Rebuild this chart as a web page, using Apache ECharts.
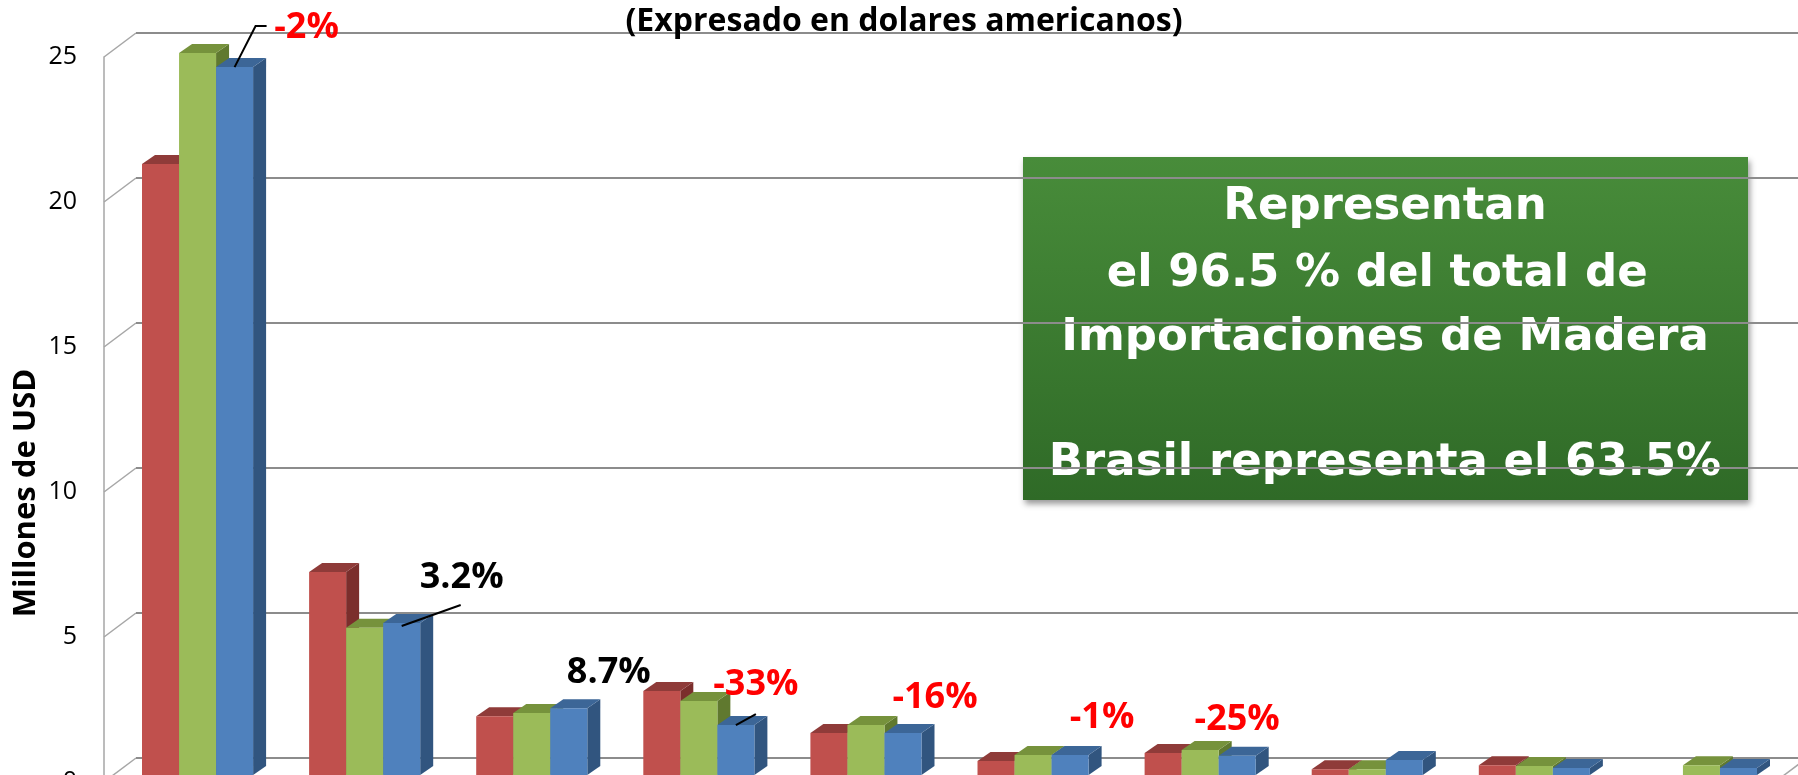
<!DOCTYPE html>
<html>
<head>
<meta charset="utf-8">
<title>Importaciones de Madera</title>
<script src="https://cdn.jsdelivr.net/npm/echarts@6.0.0/dist/echarts.min.js"></script>
<style>
  html, body { margin: 0; padding: 0; background: #fff; }
  #grafico { width: 1798px; height: 775px; }
</style>
</head>
<body>
<div id="grafico"></div>
<script>
// datos en millones de USD
var paises = ['Brasil', 'País 2', 'País 3', 'País 4', 'País 5', 'País 6', 'País 7', 'País 8', 'País 9', 'País 10'];
var anio1 = [21.07, 7.0, 2.03, 2.9, 1.45, 0.48, 0.76, 0.2, 0.34, 0];
var anio2 = [24.9, 5.08, 2.14, 2.55, 1.72, 0.69, 0.86, 0.2, 0.31, 0.34];
var anio3 = [24.41, 5.24, 2.3, 1.72, 1.45, 0.69, 0.66, 0.52, 0.24, 0.24];
var variaciones = ['-2%', '3.2%', '8.7%', '-33%', '-16%', '-1%', '-25%', '', '', ''];
var ticksY = [0, 5, 10, 15, 20, 25];

// aspecto 3D
var FONDO = [32, -24];      // desplazamiento de la pared del fondo
var FRENTE = [10, -7];      // cara frontal de las barras
var PROF = [13, -9];        // profundidad de cada barra
var ANCHO = 0.2216;         // ancho de barra / ancho de categoria
var colores = [
  { cara: '#c0504d', tapa: '#8f3b39', lado: '#7b2e2c' },
  { cara: '#9bbb59', tapa: '#76923c', lado: '#60792f' },
  { cara: '#4f81bd', tapa: '#3c6697', lado: '#31557f' }
];
// posicion de las notas respecto a la tapa de la barra azul
var posNotas = [[72, -39], [60, -45], [40, -36], [20, -40], [32, -35], [32, -37], [0, -36]];
var guias = [[[0, 0], [21, -41], [32, -41]], [[0, 3], [59, -18]], null, [[0, 0], [20, -11]], null, null, null];

function geometria(api, serie) {
  var idx = api.value(0);
  var tope = api.coord([idx, api.value(1)]);
  var base = api.coord([idx, 0]);
  var w = api.size([1, 0])[0] * ANCHO;
  var x0 = tope[0] - 1.5 * w + serie * w + FRENTE[0];
  return { x0: x0, x1: x0 + w, y0: tope[1] + FRENTE[1], y1: base[1] + FRENTE[1] };
}

function barra3d(serie) {
  var c = colores[serie];
  return function (params, api) {
    if (!api.value(1)) return null;
    var g = geometria(api, serie);
    return {
      type: 'group',
      children: [
        { type: 'polygon', shape: { points: [[g.x1, g.y0], [g.x1 + PROF[0], g.y0 + PROF[1]], [g.x1 + PROF[0], g.y1 + PROF[1]], [g.x1, g.y1]] }, style: { fill: c.lado } },
        { type: 'polygon', shape: { points: [[g.x0, g.y0], [g.x0 + PROF[0], g.y0 + PROF[1]], [g.x1 + PROF[0], g.y0 + PROF[1]], [g.x1, g.y0]] }, style: { fill: c.tapa } },
        { type: 'rect', shape: { x: g.x0, y: g.y0, width: g.x1 - g.x0, height: g.y1 - g.y0 }, style: { fill: c.cara } }
      ]
    };
  };
}

function paredes(params, api) {
  var banda = api.size([1, 0])[0];
  var xa = api.coord([0, 0])[0] - banda / 2;
  var xb = api.coord([paises.length - 1, 0])[0] + banda / 2;
  var hijos = [];
  ticksY.forEach(function (t) {
    var y = api.coord([0, t])[1];
    hijos.push({ type: 'line', shape: { x1: xa, y1: y, x2: xa + FONDO[0], y2: y + FONDO[1] }, style: { stroke: '#a6a6a6', lineWidth: 1.5 } });
    hijos.push({ type: 'line', shape: { x1: xa + FONDO[0], y1: y + FONDO[1], x2: xb + FONDO[0], y2: y + FONDO[1] }, style: { stroke: '#8c8c8c', lineWidth: 2 } });
  });
  var yb = api.coord([0, 0])[1];
  hijos.push({ type: 'line', shape: { x1: xb, y1: yb, x2: xb + FONDO[0], y2: yb + FONDO[1] }, style: { stroke: '#a6a6a6', lineWidth: 1.5 } });
  return { type: 'group', children: hijos };
}

function notas(params, api) {
  var i = api.value(0);
  var txt = variaciones[i];
  if (!txt) return null;
  var g = geometria(api, 2);
  var cx = (g.x0 + g.x1) / 2, cy = g.y0;
  var hijos = [{
    type: 'text',
    style: {
      x: cx + posNotas[i][0], y: cy + posNotas[i][1], text: txt,
      fill: txt.charAt(0) === '-' ? '#ff0000' : '#000',
      fontSize: 36, fontWeight: 'bold', fontFamily: 'Open Sans',
      align: 'center', verticalAlign: 'middle'
    }
  }];
  if (guias[i]) {
    hijos.push({
      type: 'polyline',
      shape: { points: guias[i].map(function (p) { return [cx + p[0], cy + p[1]]; }) },
      style: { stroke: '#000', lineWidth: 2, fill: null }
    });
  }
  return { type: 'group', children: hijos };
}

var textoCaja = { fill: '#fff', fontSize: 45, fontWeight: 'bold', fontFamily: 'DejaVu Sans', align: 'center', verticalAlign: 'middle' };
function lineaCaja(texto, y) {
  return { type: 'text', x: 362, y: y, style: Object.assign({ text: texto }, textoCaja) };
}

var chart = echarts.init(document.getElementById('grafico'));
chart.setOption({
  animation: false,
  title: {
    text: '(Expresado en dolares americanos)',
    left: 904, top: 6, textAlign: 'center', padding: 0,
    textStyle: { fontSize: 32, fontWeight: 'bold', fontFamily: 'Open Sans', color: '#000' }
  },
  grid: { left: 104, top: 57, width: 1671, height: 725, containLabel: false, outerBoundsMode: 'none' },
  xAxis: {
    type: 'category', data: paises,
    axisLine: { show: false }, axisTick: { show: false }, axisLabel: { show: false }
  },
  yAxis: {
    type: 'value', min: 0, max: 25, interval: 5,
    axisLine: { show: true, lineStyle: { color: '#a6a6a6', width: 1.5 } },
    axisTick: { show: false }, splitLine: { show: false },
    axisLabel: { color: '#000', fontSize: 25, fontFamily: 'Open Sans', margin: 27, padding: [6, 0, 0, 0] }
  },
  graphic: [
    {
      type: 'text', x: 26, y: 493, rotation: Math.PI / 2,
      style: { text: 'Millones de USD', fontSize: 31, fontWeight: 'bold', fontFamily: 'Open Sans', fill: '#000', align: 'center', verticalAlign: 'middle' }
    },
    {
      type: 'group', x: 1023, y: 157, z: 100,
      children: [
        {
          type: 'rect', shape: { x: 0, y: 0, width: 725, height: 343 },
          style: {
            fill: new echarts.graphic.LinearGradient(0, 0, 0, 1, [{ offset: 0, color: '#488c3a' }, { offset: 1, color: '#2f6a27' }]),
            shadowBlur: 6, shadowOffsetX: 2, shadowOffsetY: 4, shadowColor: 'rgba(0,0,0,0.4)'
          }
        },
        lineaCaja('Representan', 50),
        lineaCaja('el 96.5 % del total de ', 117),
        lineaCaja('Importaciones de Madera', 181),
        lineaCaja('Brasil representa el 63.5%', 306)
      ]
    }
  ],
  series: [
    { type: 'custom', name: 'paredes', z: 1, renderItem: paredes, data: [[0, 0]], silent: true },
    { type: 'custom', name: 'Año 1', z: 2, renderItem: barra3d(0), data: anio1.map(function (v, i) { return [i, v]; }) },
    { type: 'custom', name: 'Año 2', z: 2, renderItem: barra3d(1), data: anio2.map(function (v, i) { return [i, v]; }) },
    { type: 'custom', name: 'Año 3', z: 2, renderItem: barra3d(2), data: anio3.map(function (v, i) { return [i, v]; }) },
    { type: 'custom', name: 'variacion', z: 3, renderItem: notas, data: anio3.map(function (v, i) { return [i, v]; }) }
  ]
});
</script>
</body>
</html>
